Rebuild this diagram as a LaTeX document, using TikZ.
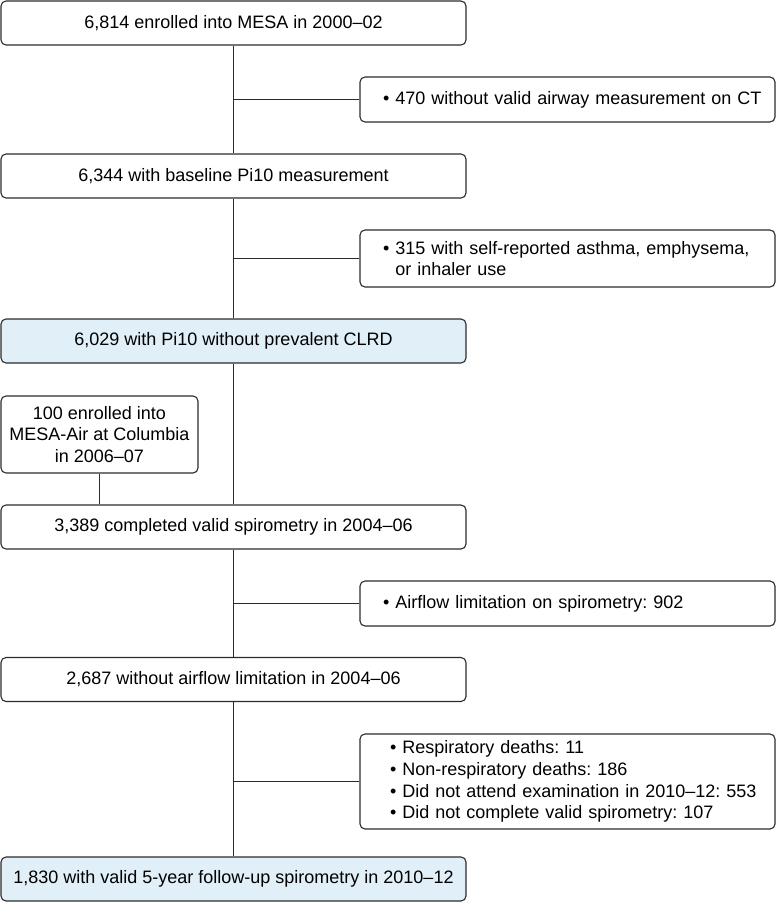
\documentclass[tikz,border=0pt]{standalone}
\usepackage{fontspec}
\setmainfont{Liberation Sans}
\frenchspacing
\definecolor{paleblue}{HTML}{E0EFF8}
\definecolor{edge}{HTML}{2B2B2B}
\begin{document}
\begin{tikzpicture}[x=1pt, y=-1pt,
	box/.style={draw=edge, line width=1.1pt, rounded corners=5pt, minimum width=465pt, minimum height=44pt, inner sep=0pt, font=\fontsize{18}{21.7}\selectfont},
	sidebox/.style={draw=edge, line width=1.1pt, rounded corners=5pt, minimum width=415pt, text width=415pt, inner xsep=0pt, inner ysep=4pt, align=left, execute at begin node={\leftskip=#1\relax}, font=\fontsize{18}{21.7}\selectfont},
	sidebox/.default=23pt,
	link/.style={draw=edge, line width=1.1pt}]
	\useasboundingbox (0, 0) rectangle (776, 902);
	\node[box] (enrolled) at (233.5, 23) {6,814 enrolled into MESA in 2000--02};
	\node[sidebox, minimum height=45pt] (noct) at (567.5, 99.5) {\textbullet\ 470 without valid airway measurement on CT};
	\node[box] (baseline) at (233.5, 176) {6,344 with baseline Pi10 measurement};
	\node[sidebox, minimum height=57pt] (asthma) at (567.5, 258.5) {\textbullet\ 315 with self-reported asthma, emphysema,\\\phantom{\textbullet\ }or inhaler use};
	\node[box, fill=paleblue] (noclrd) at (233.5, 341) {6,029 with Pi10 without prevalent CLRD};
	\node[draw=edge, line width=1.1pt, rounded corners=5pt, minimum width=197pt, minimum height=77pt, inner sep=0pt, align=center, font=\fontsize{18}{21.7}\selectfont] (mesaair) at (99.5, 434.5) {100 enrolled into\\MESA-Air at Columbia\\in 2006--07};
	\node[box] (spiro) at (233.5, 527) {3,389 completed valid spirometry in 2004--06};
	\node[sidebox, minimum height=45pt] (airflow) at (567.5, 603.5) {\textbullet\ Airflow limitation on spirometry: 902};
	\node[box] (nolimit) at (233.5, 679.5) {2,687 without airflow limitation in 2004--06};
	\node[sidebox=30pt, minimum height=95pt] (lost) at (567.5, 781.5) {\textbullet\ Respiratory deaths: 11\\\textbullet\ Non-respiratory deaths: 186\\\textbullet\ Did not attend examination in 2010--12: 553\\\textbullet\ Did not complete valid spirometry: 107};
	\node[box, fill=paleblue] (followup) at (233.5, 879) {1,830 with valid 5-year follow-up spirometry in 2010--12};
	% trunk
	\draw[link] (enrolled) -- (baseline);
	\draw[link] (baseline) -- (noclrd);
	\draw[link] (noclrd) -- (spiro);
	\draw[link] (spiro) -- (nolimit);
	\draw[link] (nolimit) -- (followup);
	% exclusions
	\draw[link] (noct.west) -- (noct.west -| enrolled.south);
	\draw[link] (asthma.west) -- (asthma.west -| baseline.south);
	\draw[link] (airflow.west) -- (airflow.west -| spiro.south);
	\draw[link] (lost.west) -- (lost.west -| nolimit.south);
	% added participants
	\draw[link] (mesaair.south) -- (mesaair.south |- spiro.north);
\end{tikzpicture}
\end{document}
